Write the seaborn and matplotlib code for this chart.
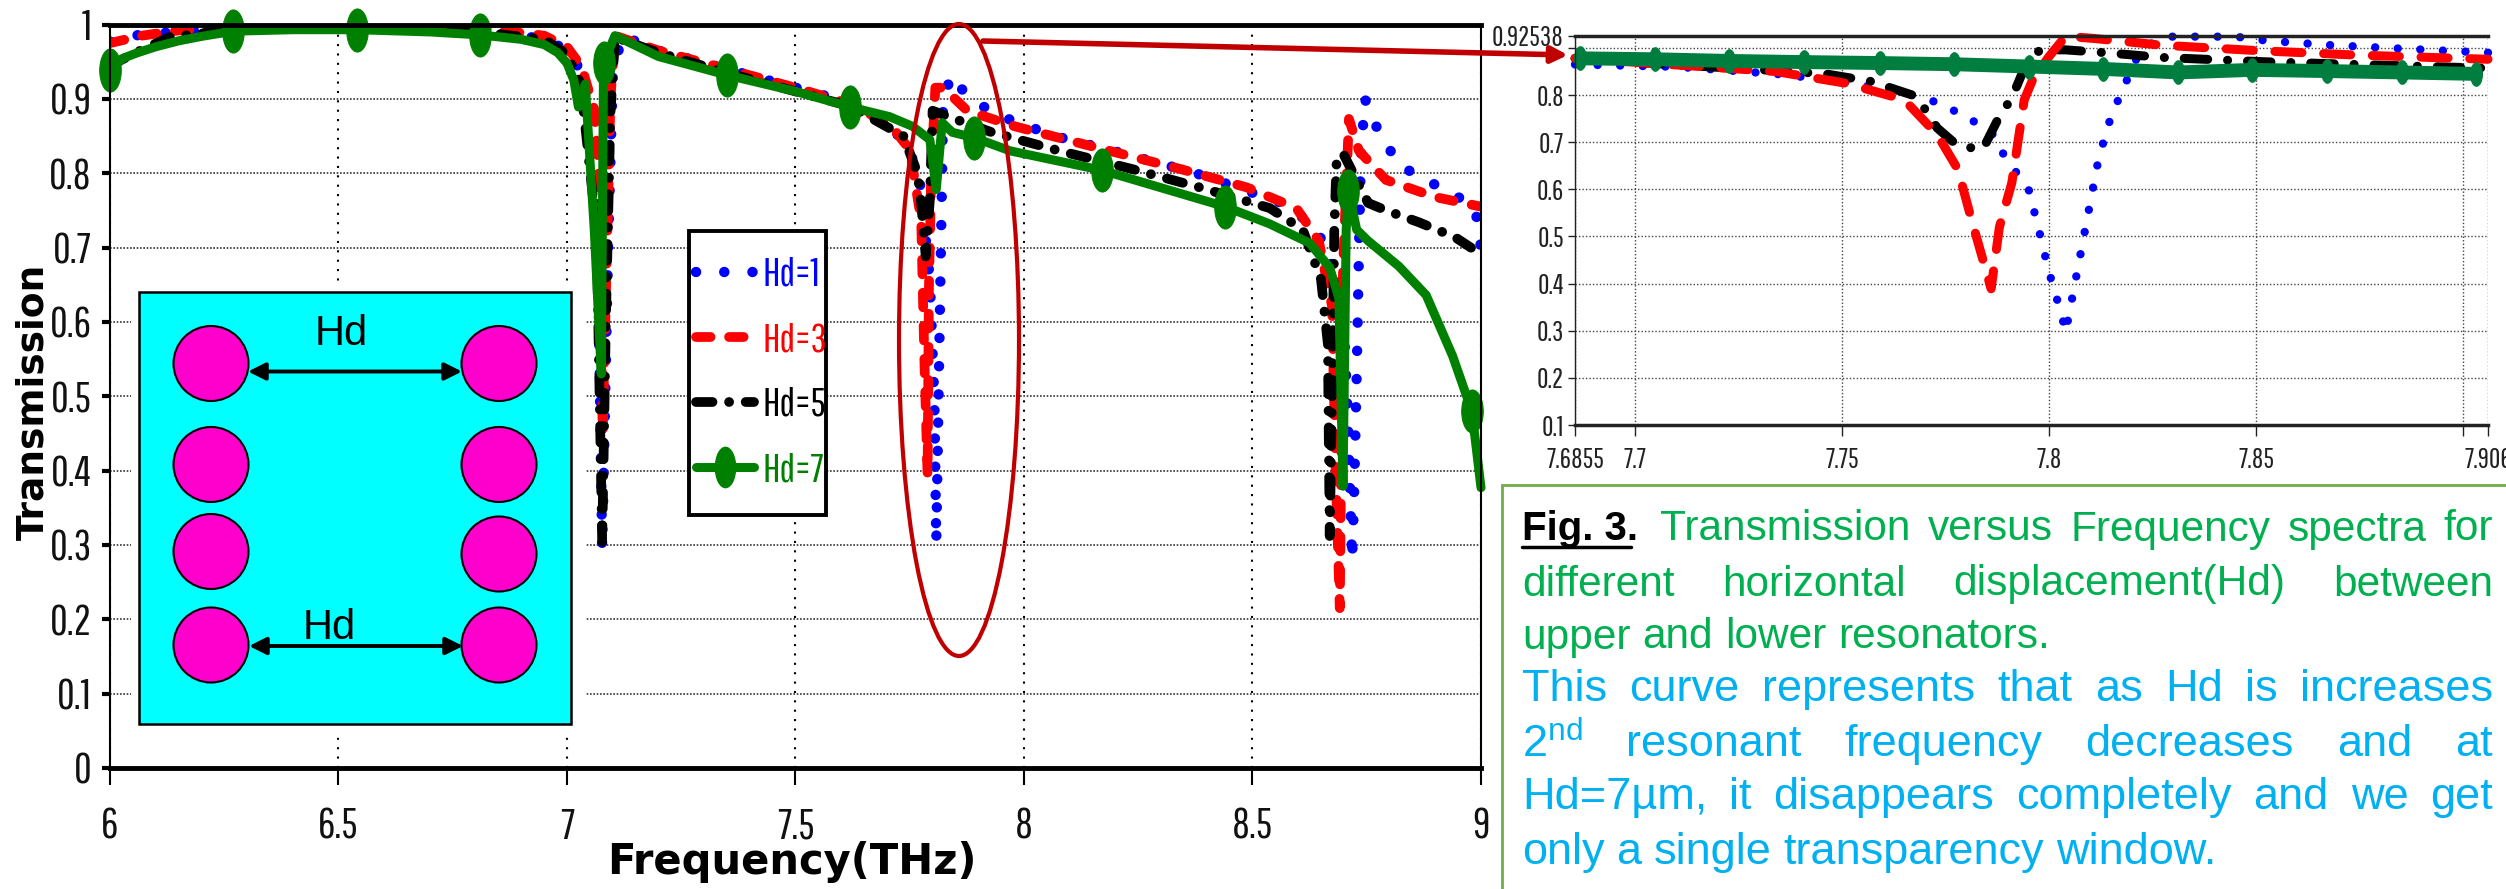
import numpy as np
import matplotlib
matplotlib.use("Agg")
import matplotlib.pyplot as plt
import seaborn as sns
from matplotlib.lines import Line2D
from matplotlib.patches import Ellipse, Rectangle
from matplotlib.path import Path

# main chart data
hd1_freq = [6.0, 6.07, 6.15, 6.3, 6.54, 6.8, 6.95, 7.0, 7.03, 7.045, 7.06, 7.07, 7.077, 7.082, 7.09, 7.1, 7.12, 7.2, 7.35, 7.5, 7.62, 7.7, 7.737, 7.77, 7.794, 7.804, 7.808, 7.82, 7.823, 7.84, 7.868, 7.93, 8.067, 8.214, 8.376, 8.578, 8.64, 8.665, 8.698, 8.708, 8.714, 8.718, 8.722, 8.728, 8.733, 8.737, 8.746, 8.768, 8.82, 8.919, 8.983, 8.998, 9.0]
hd1_trans = [0.977, 0.987, 0.99, 0.998, 0.998, 0.995, 0.98, 0.966, 0.938, 0.9, 0.835, 0.6, 0.293, 0.45, 0.7, 0.93, 0.985, 0.965, 0.94, 0.915, 0.895, 0.863, 0.845, 0.8, 0.657, 0.492, 0.302, 0.77, 0.894, 0.932, 0.91, 0.881, 0.85, 0.827, 0.8, 0.757, 0.724, 0.693, 0.621, 0.48, 0.36, 0.279, 0.36, 0.529, 0.698, 0.822, 0.9, 0.866, 0.811, 0.778, 0.757, 0.724, 0.68]

hd3_freq = [6.0, 6.07, 6.15, 6.3, 6.54, 6.8, 6.95, 7.0, 7.032, 7.06, 7.072, 7.078, 7.09, 7.095, 7.105, 7.2, 7.35, 7.5, 7.62, 7.706, 7.75, 7.775, 7.782, 7.789, 7.792, 7.797, 7.806, 7.823, 7.876, 7.98, 8.137, 8.34, 8.487, 8.596, 8.645, 8.674, 8.682, 8.691, 8.698, 8.711, 8.733, 8.792, 8.899, 9.0]
hd3_trans = [0.975, 0.985, 0.992, 0.999, 1.0, 0.996, 0.985, 0.97, 0.943, 0.885, 0.78, 0.45, 0.764, 0.9, 0.985, 0.965, 0.94, 0.915, 0.893, 0.866, 0.832, 0.737, 0.55, 0.393, 0.647, 0.8, 0.915, 0.915, 0.884, 0.863, 0.838, 0.806, 0.781, 0.753, 0.709, 0.621, 0.4, 0.215, 0.672, 0.873, 0.83, 0.791, 0.768, 0.755]

hd5_freq = [6.0, 6.06, 6.13, 6.3, 6.54, 6.81, 6.95, 7.0, 7.03, 7.045, 7.065, 7.077, 7.085, 7.095, 7.105, 7.2, 7.35, 7.5, 7.62, 7.736, 7.767, 7.775, 7.785, 7.794, 7.8, 7.848, 7.93, 8.078, 8.234, 8.39, 8.538, 8.61, 8.65, 8.665, 8.669, 8.674, 8.679, 8.684, 8.698, 8.753, 8.792, 8.864, 8.943, 9.0]
hd5_trans = [0.945, 0.963, 0.983, 0.995, 0.998, 0.99, 0.98, 0.96, 0.92, 0.835, 0.72, 0.304, 0.6, 0.88, 0.983, 0.962, 0.935, 0.91, 0.89, 0.85, 0.8, 0.76, 0.688, 0.765, 0.884, 0.873, 0.855, 0.83, 0.806, 0.78, 0.753, 0.724, 0.657, 0.57, 0.312, 0.5, 0.724, 0.817, 0.827, 0.76, 0.75, 0.734, 0.714, 0.691]

hd7_freq = [6.0, 6.03, 6.06, 6.1, 6.15, 6.2, 6.27, 6.4, 6.54, 6.7, 6.81, 6.9, 6.95, 6.98, 7.0, 7.015, 7.025, 7.04, 7.06, 7.075, 7.08, 7.105, 7.2, 7.35, 7.5, 7.62, 7.706, 7.756, 7.794, 7.808, 7.821, 7.843, 7.89, 7.97, 8.17, 8.44, 8.537, 8.625, 8.669, 8.689, 8.698, 8.705, 8.71, 8.728, 8.753, 8.82, 8.88, 8.938, 8.98, 9.0]
hd7_trans = [0.939, 0.955, 0.962, 0.97, 0.978, 0.984, 0.991, 0.993, 0.993, 0.99, 0.986, 0.98, 0.973, 0.962, 0.948, 0.925, 0.889, 0.92, 0.72, 0.53, 0.948, 0.985, 0.957, 0.932, 0.91, 0.889, 0.876, 0.863, 0.845, 0.778, 0.868, 0.855, 0.848, 0.83, 0.804, 0.755, 0.732, 0.706, 0.673, 0.632, 0.379, 0.724, 0.776, 0.724, 0.709, 0.675, 0.636, 0.554, 0.48, 0.377]
hd7_marker_freq = [6.0, 6.27, 6.54, 6.81, 7.08, 7.35, 7.62, 7.89, 8.17, 8.44, 8.71, 8.98]

main_xticks = [6, 6.5, 7, 7.5, 8, 8.5, 9]
main_xlabels = ["6", "6.5", "7", "7.5", "8", "8.5", "9"]
main_yticks = [0, 0.1, 0.2, 0.3, 0.4, 0.5, 0.6, 0.7, 0.8, 0.9, 1]
main_ylabels = ["0", "0.1", "0.2", "0.3", "0.4", "0.5", "0.6", "0.7", "0.8", "0.9", "1"]

# zoomed chart data
zoom1_freq = [7.6855, 7.71, 7.734, 7.75, 7.765, 7.772, 7.78, 7.787, 7.789, 7.792, 7.795, 7.7975, 7.8, 7.803, 7.804, 7.806, 7.808, 7.81, 7.812, 7.815, 7.819, 7.821, 7.824, 7.828, 7.845, 7.853, 7.868, 7.884, 7.906]
zoom1_trans = [0.865, 0.86, 0.845, 0.829, 0.805, 0.787, 0.755, 0.713, 0.674, 0.637, 0.602, 0.515, 0.424, 0.334, 0.297, 0.389, 0.482, 0.575, 0.667, 0.756, 0.836, 0.875, 0.906, 0.924, 0.924, 0.915, 0.906, 0.899, 0.89]
zoom3_freq = [7.6855, 7.71, 7.734, 7.751, 7.765, 7.773, 7.778, 7.781, 7.786, 7.788, 7.791, 7.794, 7.796, 7.8, 7.804, 7.811, 7.827, 7.851, 7.874, 7.906]
zoom3_trans = [0.878, 0.864, 0.85, 0.825, 0.79, 0.716, 0.642, 0.544, 0.389, 0.52, 0.614, 0.79, 0.832, 0.882, 0.925, 0.92, 0.906, 0.894, 0.885, 0.876]
zoom5_freq = [7.6855, 7.71, 7.734, 7.746, 7.757, 7.768, 7.773, 7.778, 7.784, 7.788, 7.791, 7.793, 7.795, 7.798, 7.804, 7.815, 7.827, 7.851, 7.874, 7.906]
zoom5_trans = [0.878, 0.864, 0.852, 0.845, 0.829, 0.797, 0.73, 0.692, 0.685, 0.755, 0.794, 0.836, 0.878, 0.896, 0.896, 0.889, 0.88, 0.871, 0.865, 0.857]
zoom7_freq = [7.6867, 7.7048, 7.7227, 7.7409, 7.7591, 7.777, 7.7952, 7.813, 7.8312, 7.849, 7.867, 7.8852, 7.9031]
zoom7_trans = [0.878, 0.876, 0.8725, 0.87, 0.868, 0.8655, 0.8606, 0.8556, 0.848, 0.8535, 0.851, 0.848, 0.845]

zoom_xticks = [7.6855, 7.7, 7.75, 7.8, 7.85, 7.9, 7.906]
zoom_xlabels = ["7.6855", "7.7", "7.75", "7.8", "7.85", "", "7.906"]
zoom_yticks = [0.1, 0.2, 0.3, 0.4, 0.5, 0.6, 0.7, 0.8, 0.9, 0.92538]
zoom_ylabels = ["0.1", "0.2", "0.3", "0.4", "0.5", "0.6", "0.7", "0.8", "", "0.92538"]

legend_labels = ["Hd=1", "Hd=3", "Hd=5", "Hd=7"]

W, H = 2506, 889
NARROW = ["Pathway Gothic One", "Liberation Sans"]
SANS = "Liberation Sans"

sns.set_style("ticks")
plt.rcParams["font.family"] = ["Liberation Sans", "DejaVu Sans"]
plt.rcParams["mathtext.default"] = "regular"

fig = plt.figure(figsize=(W / 100, H / 100), dpi=100, facecolor="white")


#axes from pixel box
def pixelAxes(left, top, right, bottom):
    return fig.add_axes([left / W, 1 - bottom / H, (right - left) / W, (bottom - top) / H])


ax = pixelAxes(110, 24.5, 1481, 768)
zoomAx = pixelAxes(1575, 36, 2488, 425)

# tall marker, the source picture was stretched
ellipse = Path.unit_circle().transformed(matplotlib.transforms.Affine2D().scale(0.5, 1))

dots = (0, (0.01, 2.7))
dashes = (0, (1.5, 1.9))
dashdot = (0, (1.7, 1.7, 0.01, 1.7))

#main curves
sns.lineplot(x=hd1_freq, y=hd1_trans, ax=ax, sort=False, estimator=None, color="#0000FF", linewidth=7.5, linestyle=dots, dash_capstyle="round", label=legend_labels[0])
sns.lineplot(x=hd3_freq, y=hd3_trans, ax=ax, sort=False, estimator=None, color="#FF0000", linewidth=7, linestyle=dashes, dash_capstyle="round", label=legend_labels[1])
sns.lineplot(x=hd5_freq, y=hd5_trans, ax=ax, sort=False, estimator=None, color="#000000", linewidth=7, linestyle=dashdot, dash_capstyle="round", label=legend_labels[2])
marker_idx = [hd7_freq.index(f) for f in hd7_marker_freq]
sns.lineplot(x=hd7_freq, y=hd7_trans, ax=ax, sort=False, estimator=None, color="#008000", linewidth=6.5, marker=ellipse, markersize=31, markevery=marker_idx, markeredgecolor="#008000", markerfacecolor="#008000", clip_on=False, label=legend_labels[3])

#zoom curves
sns.lineplot(x=zoom1_freq, y=zoom1_trans, ax=zoomAx, sort=False, estimator=None, color="#0000FF", linewidth=6, linestyle=(0, (0.01, 2.7)), dash_capstyle="round", clip_on=False, legend=False)
sns.lineplot(x=zoom5_freq, y=zoom5_trans, ax=zoomAx, sort=False, estimator=None, color="#000000", linewidth=6.5, linestyle=(0, (2.6, 2.2, 0.01, 2.2)), dash_capstyle="round", clip_on=False, legend=False)
sns.lineplot(x=zoom3_freq, y=zoom3_trans, ax=zoomAx, sort=False, estimator=None, color="#FF0000", linewidth=6.5, linestyle=(0, (3.0, 2.4)), dash_capstyle="round", clip_on=False, legend=False)
sns.lineplot(x=zoom7_freq, y=zoom7_trans, ax=zoomAx, sort=False, estimator=None, color="#007E3F", linewidth=10, marker=ellipse, markersize=17, markeredgecolor="#007E3F", markerfacecolor="#007E3F", clip_on=False, legend=False)

# main axes look
ax.set_xlim(6, 9)
ax.set_ylim(0, 1)
ax.set_xticks(main_xticks)
ax.set_xticklabels(main_xlabels, family=NARROW, fontsize=31, color="#111111")
ax.set_yticks(main_yticks)
ax.set_yticklabels(main_ylabels, family=NARROW, fontsize=31, color="#111111")
ax.set_xlabel("")
ax.set_ylabel("")
ax.tick_params(axis="x", length=12, width=1.5, pad=16, color="black")
ax.tick_params(axis="y", length=6, width=3, pad=7, color="black")
ax.grid(axis="x", color="black", linewidth=1.5, linestyle=(0, (1, 3.5)))
ax.grid(axis="y", color="#333333", linewidth=1.2, linestyle=(0, (1, 1)))
ax.set_axisbelow(True)
for side, lw in zip(["top", "bottom", "left", "right"], [3.5, 3.5, 1.5, 1.5]):
    ax.spines[side].set_visible(True)
    ax.spines[side].set_color("black")
    ax.spines[side].set_linewidth(lw)

handles, labels = ax.get_legend_handles_labels()
handles[3] = Line2D([], [], color="#008000", linewidth=6.5, marker=ellipse, markersize=29, markeredgecolor="#008000", markerfacecolor="#008000")
ax.get_legend().remove()

# zoom axes look
zoomAx.set_xlim(7.6855, 7.906)
zoomAx.set_ylim(0.1, 0.92538)
zoomAx.set_xticks(zoom_xticks)
zoomAx.set_xticklabels(zoom_xlabels, family=NARROW, fontsize=20, color="#222222")
zoomAx.set_yticks(zoom_yticks)
zoomAx.set_yticklabels(zoom_ylabels, family=NARROW, fontsize=20, color="#222222")
zoomAx.set_xlabel("")
zoomAx.set_ylabel("")
zoomAx.tick_params(axis="x", length=8, width=1, pad=8, color="#222222")
zoomAx.tick_params(axis="y", length=5, width=1, pad=3, color="#222222")
zoomAx.grid(True, color="#444444", linewidth=1, linestyle=(0, (1, 1.5)))
zoomAx.set_axisbelow(True)
for side, lw in zip(["top", "bottom", "left", "right"], [2.5, 2.5, 1, 0]):
    zoomAx.spines[side].set_visible(lw > 0)
    zoomAx.spines[side].set_color("#222222")
    zoomAx.spines[side].set_linewidth(max(lw, 0.1))

fig.text(33 / W, 1 - 402 / H, "Transmission", rotation=90, ha="center", va="center", family="DejaVu Sans", fontweight="bold", fontsize=27, color="black")
fig.text(792 / W, 1 - 862 / H, "Frequency(THz)", ha="center", va="center", family="DejaVu Sans", fontweight="bold", fontsize=30, color="black")

# overlay in pixels for the schematic, legend box and callout
over = fig.add_axes([0, 0, 1, 1], zorder=5)
over.set_xlim(0, W)
over.set_ylim(H, 0)
over.axis("off")
over.patch.set_alpha(0)

over.add_patch(Rectangle((131, 282), 454, 450, facecolor="white", edgecolor="none"))
over.add_patch(Rectangle((139, 292), 432, 432, facecolor="#00FFFF", edgecolor="black", linewidth=1.8))
circle_px = [(211, 363.5), (211, 464.5), (211, 551.5), (211, 645), (499, 363.5), (499, 464.5), (499, 554), (499, 645)]
for cx, cy in circle_px:
    over.add_patch(Ellipse((cx, cy), 75, 75, facecolor="#FF00CC", edgecolor="black", linewidth=1.5))
for x0, x1, y in [(248, 462, 371.5), (249, 463, 646)]:
    over.annotate("", xy=(x1, y), xytext=(x0, y), arrowprops=dict(arrowstyle="<|-|>", color="black", lw=2.8, mutation_scale=26, shrinkA=0, shrinkB=0))
over.text(341, 334, "Hd", ha="center", va="center", fontsize=30, family=SANS, color="black")
over.text(329, 628, "Hd", ha="center", va="center", fontsize=30, family=SANS, color="black")

# legend with a box of its own, entries are spaced wider than the pads
over.add_patch(Rectangle((689, 231), 137, 284, facecolor="white", edgecolor="black", linewidth=2.8))
leg = over.legend(handles, labels, loc="center left", bbox_to_anchor=(696 / W, 1 - 372.5 / H), bbox_transform=fig.transFigure,
                  borderaxespad=0, borderpad=0, frameon=False, prop={"family": NARROW, "size": 29}, labelcolor="linecolor",
                  handlelength=1.45, handletextpad=0.2, labelspacing=0.72)

over.add_patch(Ellipse((959, 340), 120, 632, facecolor="none", edgecolor="#C00000", linewidth=3))
over.annotate("", xy=(1568, 55), xytext=(983, 41), arrowprops=dict(arrowstyle="-|>", color="#C00000", lw=4, mutation_scale=24, shrinkA=0, shrinkB=0))

# caption box runs past the image edge
over.add_patch(Rectangle((1502, 485), 1100, 500, facecolor="white", edgecolor="#70AD47", linewidth=2))

renderer = fig.canvas.get_renderer()
GREEN_TXT = "#00B050"
BLUE_TXT = "#00B0F0"


#one caption line, spread out if a right edge is given
def captionLine(words, x0, y, color, size, x1=None):
    items = [over.text(x0, y, w, ha="left", va="center_baseline", fontsize=size, family=SANS, color=color) for w in words]
    widths = [t.get_window_extent(renderer).width for t in items]
    gap = 12.0
    if x1 is not None and len(words) > 1:
        gap = (x1 - x0 - sum(widths)) / (len(words) - 1)
    x = x0
    for t, w in zip(items, widths):
        t.set_x(x)
        x += w + gap


over.text(1522, 525, "Fig. 3.", ha="left", va="center_baseline", fontsize=29, family=SANS, fontweight="bold", color="black")
over.plot([1522, 1631], [547, 547], color="black", linewidth=2.5)
captionLine(["Transmission", "versus", "Frequency", "spectra", "for"], 1660, 525, GREEN_TXT, 30.5, 2493)
captionLine(["different", "horizontal", "displacement(Hd)", "between"], 1522, 580, GREEN_TXT, 30.5, 2493)
captionLine(["upper", "and", "lower", "resonators."], 1522, 633, GREEN_TXT, 30.5)
captionLine(["This", "curve", "represents", "that", "as", "Hd", "is", "increases"], 1522, 685, BLUE_TXT, 32.5, 2493)
captionLine(["2$^{nd}$", "resonant", "frequency", "decreases", "and", "at"], 1522, 740, BLUE_TXT, 32.5, 2493)
captionLine(["Hd=7µm,", "it", "disappears", "completely", "and", "we", "get"], 1522, 793, BLUE_TXT, 32.5, 2493)
captionLine(["only", "a", "single", "transparency", "window."], 1522, 848, BLUE_TXT, 32.5)

fig.savefig("out.png", dpi=100)
